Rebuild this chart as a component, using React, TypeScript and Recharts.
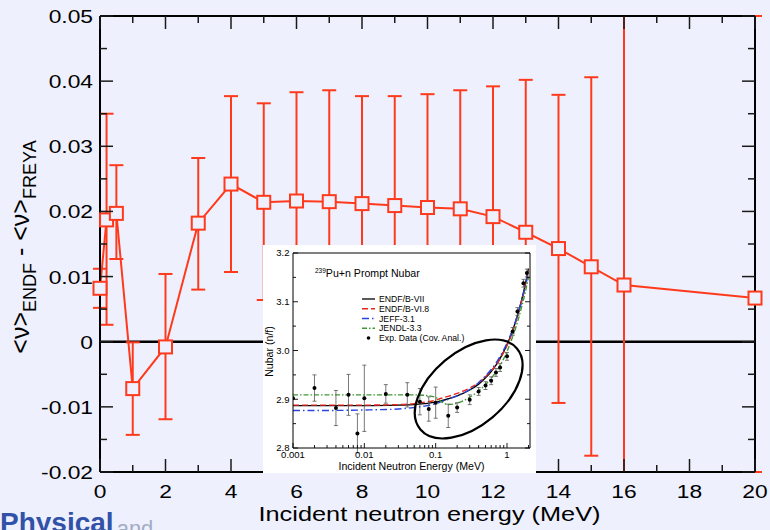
import React from 'react';
import {
  ComposedChart,
  Line,
  Scatter,
  XAxis,
  YAxis,
  ErrorBar,
  ReferenceLine,
  ReferenceDot,
  Legend,
} from 'recharts';

const FONT = '"Liberation Sans", Arial, Helvetica, sans-serif';
const BG = '#eef1fd';
const RED = '#ff3a1c';

// ---------------- main chart data ----------------
const energyMeV = [0, 0.2, 0.5, 1, 2, 3, 4, 5, 6, 7, 8, 9, 10, 11, 12, 13, 14, 15, 16, 20];
const nuDiff = [
  0.0082, 0.0187, 0.0197, -0.0072, -0.0008, 0.0182, 0.0242, 0.0214, 0.0216, 0.0215,
  0.0212, 0.0209, 0.0206, 0.0204, 0.0192, 0.0168, 0.0143, 0.0115, 0.0087, 0.0067,
];
const errLow = [
  0.003, 0.0161, 0.007, 0.0071, 0.0111, 0.0102, 0.0135, 0.015, 0.0167, 0.0171,
  0.0165, 0.0168, 0.0174, 0.0182, 0.02, 0.0234, 0.0237, 0.029, 0.05, 0.05,
];
const errHigh = [
  0.003, 0.0163, 0.0074, 0.0071, 0.0112, 0.01, 0.0135, 0.0152, 0.0167, 0.0171,
  0.0165, 0.0168, 0.0174, 0.0182, 0.02, 0.0234, 0.0236, 0.0291, 0.05, 0.05,
];
const yDomain = [-0.02, 0.05];
const xMajorTicks = [0, 2, 4, 6, 8, 10, 12, 14, 16, 18, 20];
const xMinorTicks = [1, 3, 5, 7, 9, 11, 13, 15, 17, 19];
const yMajorTicks = [-0.02, -0.01, 0, 0.01, 0.02, 0.03, 0.04, 0.05];
const yMinorTicks = [-0.015, -0.005, 0.005, 0.015, 0.025, 0.035, 0.045];

// error bars that run off the plot are cut at the frame, as in the original figure
const mainData = energyMeV.map((e, i) => ({
  e,
  v: nuDiff[i],
  err: [Math.min(errLow[i], nuDiff[i] - yDomain[0]), Math.min(errHigh[i], yDomain[1] - nuDiff[i])],
}));

// ---------------- inset chart data ----------------
const curveE = [0.001, 0.003, 0.01, 0.03, 0.05, 0.07, 0.1, 0.12, 0.15, 0.2, 0.3, 0.4, 0.5, 0.6, 0.7, 0.8, 1.0, 1.2, 1.4, 1.6, 1.8, 2.0];
const endfb7 = [2.887, 2.887, 2.887, 2.888, 2.889, 2.891, 2.894, 2.897, 2.901, 2.907, 2.919, 2.931, 2.944, 2.957, 2.97, 2.984, 3.012, 3.041, 3.072, 3.103, 3.135, 3.168];
const endfb68 = [2.888, 2.888, 2.888, 2.889, 2.891, 2.894, 2.898, 2.902, 2.906, 2.912, 2.923, 2.934, 2.946, 2.958, 2.97, 2.983, 3.01, 3.039, 3.07, 3.1, 3.132, 3.165];
const jeff31 = [2.877, 2.877, 2.878, 2.88, 2.883, 2.886, 2.891, 2.895, 2.9, 2.907, 2.92, 2.934, 2.948, 2.961, 2.974, 2.988, 3.015, 3.043, 3.072, 3.101, 3.13, 3.16];
const jendl33 = [2.909, 2.909, 2.909, 2.909, 2.909, 2.908, 2.904, 2.895, 2.889, 2.892, 2.904, 2.917, 2.93, 2.943, 2.956, 2.969, 2.998, 3.028, 3.058, 3.089, 3.119, 3.15];

const expE = [0.001, 0.002, 0.004, 0.006, 0.008, 0.01, 0.02, 0.04, 0.06, 0.08, 0.1, 0.15, 0.2, 0.3, 0.4, 0.5, 0.6, 0.7, 0.8, 1.0, 1.2, 1.4, 1.7, 1.9];
const expNu = [2.902, 2.923, 2.882, 2.909, 2.83, 2.902, 2.911, 2.909, 2.895, 2.88, 2.893, 2.866, 2.883, 2.899, 2.916, 2.928, 2.938, 2.955, 2.965, 2.988, 3.039, 3.08, 3.138, 3.159];
const expErr = [0, 0.027, 0.036, 0.042, 0.04, 0.068, 0.019, 0.025, 0.027, 0.025, 0.032, 0.024, 0.01, 0.01, 0.008, 0.008, 0.008, 0.008, 0.008, 0.008, 0.008, 0.008, 0.008, 0.008];

const insetXMajor = [0.001, 0.01, 0.1, 1];
const insetXMinor = [
  0.002, 0.003, 0.004, 0.005, 0.006, 0.007, 0.008, 0.009,
  0.02, 0.03, 0.04, 0.05, 0.06, 0.07, 0.08, 0.09,
  0.2, 0.3, 0.4, 0.5, 0.6, 0.7, 0.8, 0.9, 2,
];
const insetYMajor = [2.8, 2.9, 3.0, 3.1, 3.2];
const insetYMinor = [2.85, 2.95, 3.05, 3.15];

const insetCurves = [
  { name: 'ENDF/B-VII', values: endfb7, color: '#000000', dash: undefined as string | undefined },
  { name: 'ENDF/B-VI.8', values: endfb68, color: '#e8261e', dash: '6 3' },
  { name: 'JEFF-3.1', values: jeff31, color: '#2645e0', dash: '7 3 1.5 3' },
  { name: 'JENDL-3.3', values: jendl33, color: '#3c9b30', dash: '5 2 1.5 2' },
];
const expName = 'Exp. Data (Cov. Anal.)';
const expData = expE.map((e, i) => ({ e, v: expNu[i], err: expErr[i] }));

const near = (list: number[], v: number) => list.some((t) => Math.abs(t - v) < 1e-9);

// ---------------- main ticks ----------------
const TICK = '#1a1a1a';
const LeftTick = (p: any) => {
  const { x, y, payload } = p;
  const v = payload.value;
  const major = near(yMajorTicks, v);
  const label = Math.abs(v) < 1e-12 ? '0' : v.toFixed(2);
  return (
    <g>
      <line x1={x} x2={x + (major ? 13 : 7)} y1={y} y2={y} stroke={TICK} strokeWidth={1.5} />
      {major && (
        <text transform={`translate(${x - 7},${y + 7}) scale(1.2,1)`} textAnchor="end" fontSize={19} fontFamily={FONT} fill="#000">
          {label}
        </text>
      )}
    </g>
  );
};
const RightTick = (p: any) => {
  const { x, y, payload } = p;
  const major = near(yMajorTicks, payload.value);
  return <line x1={x} x2={x - (major ? 13 : 7)} y1={y} y2={y} stroke={TICK} strokeWidth={1.5} />;
};
const BottomTick = (p: any) => {
  const { x, y, payload } = p;
  const major = near(xMajorTicks, payload.value);
  return (
    <g>
      <line x1={x} x2={x} y1={y} y2={y - (major ? 13 : 7)} stroke={TICK} strokeWidth={1.5} />
      {major && (
        <text transform={`translate(${x},${y + 26}) scale(1.2,1)`} textAnchor="middle" fontSize={19} fontFamily={FONT} fill="#000">
          {String(payload.value)}
        </text>
      )}
    </g>
  );
};
const TopTick = (p: any) => {
  const { x, y, payload } = p;
  const major = near(xMajorTicks, payload.value);
  return <line x1={x} x2={x} y1={y} y2={y + (major ? 13 : 7)} stroke={TICK} strokeWidth={1.5} />;
};

const XTitle = (p: any) => {
  const vb = p.viewBox;
  return (
    <text x={vb.x + vb.width / 2 + 2} y={vb.y + 49} textAnchor="middle" fontSize={20.5} fontFamily={FONT} fill="#000" textLength={342} lengthAdjust="spacingAndGlyphs">
      Incident neutron energy (MeV)
    </text>
  );
};
const YTitle = (p: any) => {
  const vb = p.viewBox;
  const cx = vb.x + 28.5;
  const cy = vb.y + vb.height / 2 + 3;
  return (
    <text transform={`translate(${cx},${cy}) rotate(-90)`} textAnchor="middle" fontSize={25} fontFamily={FONT} fill="#000">
      {'<ν>'}
      <tspan fontSize={18} dy={7}>ENDF</tspan>
      <tspan dy={-7}>{' - <ν>'}</tspan>
      <tspan fontSize={18} dy={7}>FREYA</tspan>
    </text>
  );
};

const SquareDot = (p: any) => {
  const { cx, cy, index } = p;
  if (cx == null || cy == null) return <g key={index} />;
  return <rect key={index} x={cx - 6.5} y={cy - 6.5} width={13} height={13} fill={BG} stroke={RED} strokeWidth={2} />;
};

// ---------------- inset ticks ----------------
const IBottomTick = (p: any) => {
  const { x, y, payload } = p;
  const major = near(insetXMajor, payload.value);
  return (
    <g>
      <line x1={x} x2={x} y1={y} y2={y - (major ? 5 : 3)} stroke="#000" strokeWidth={0.9} />
      {major && (
        <text x={x} y={y + 9.5} textAnchor="middle" fontSize={9.5} fontFamily={FONT} fill="#000">
          {String(payload.value)}
        </text>
      )}
    </g>
  );
};
const ITopTick = (p: any) => {
  const { x, y, payload } = p;
  const major = near(insetXMajor, payload.value);
  return <line x1={x} x2={x} y1={y} y2={y + (major ? 5 : 3)} stroke="#000" strokeWidth={0.9} />;
};
const ILeftTick = (p: any) => {
  const { x, y, payload } = p;
  const major = near(insetYMajor, payload.value);
  return (
    <g>
      <line x1={x} x2={x + (major ? 5 : 3)} y1={y} y2={y} stroke="#000" strokeWidth={0.9} />
      {major && (
        <text x={x - 3.5} y={y + 3.3} textAnchor="end" fontSize={9.5} fontFamily={FONT} fill="#000">
          {payload.value.toFixed(1)}
        </text>
      )}
    </g>
  );
};
const IRightTick = (p: any) => {
  const { x, y, payload } = p;
  const major = near(insetYMajor, payload.value);
  return <line x1={x} x2={x - (major ? 5 : 3)} y1={y} y2={y} stroke="#000" strokeWidth={0.9} />;
};
const IXTitle = (p: any) => {
  const vb = p.viewBox;
  return (
    <text x={vb.x + vb.width / 2} y={vb.y + 22} textAnchor="middle" fontSize={10.6} fontFamily={FONT} fill="#000">
      Incident Neutron Energy (MeV)
    </text>
  );
};
const IYTitle = (p: any) => {
  const vb = p.viewBox;
  return (
    <text transform={`translate(${vb.x + 9.5},${vb.y + vb.height / 2 + 1}) rotate(-90)`} textAnchor="middle" fontSize={10.6} fontFamily={FONT} fill="#000">
      Nubar (n/f)
    </text>
  );
};

const ExpDot = (p: any) => {
  const { cx, cy } = p;
  if (cx == null || cy == null) return <g />;
  return <circle cx={cx} cy={cy} r={2} fill="#000" />;
};

const Ellipse = (p: any) => {
  const { cx, cy } = p;
  return (
    <ellipse cx={cx} cy={cy} rx={63} ry={37} transform={`rotate(-40 ${cx} ${cy})`} fill="none" stroke="#000" strokeWidth={2.2} />
  );
};

const InsetLegend = (props: any) => {
  const payload: any[] = props.payload || [];
  const names = [...insetCurves.map((c) => c.name), expName];
  const rows = names
    .map((n) => payload.find((pl) => pl.value === n) || { value: n })
    .map((pl) => {
      const cfg = insetCurves.find((c) => c.name === pl.value);
      return { name: pl.value as string, color: cfg ? cfg.color : '#000', dash: cfg ? cfg.dash : undefined, isExp: !cfg };
    });
  const rowH = 9.75;
  return (
    <svg width={130} height={rows.length * rowH + 4} style={{ display: 'block' }}>
      {rows.map((r, i) => {
        const cy = 5 + i * rowH;
        return (
          <g key={r.name}>
            {r.isExp ? (
              <circle cx={6.5} cy={cy} r={1.8} fill="#000" />
            ) : (
              <line x1={0} x2={13} y1={cy} y2={cy} stroke={r.color} strokeWidth={1.3} strokeDasharray={r.dash} />
            )}
            <text x={17} y={cy + 3} fontSize={8.7} fontFamily={FONT} fill="#000">
              {r.name}
            </text>
          </g>
        );
      })}
    </svg>
  );
};

const Inset = () => (
  <div style={{ position: 'absolute', left: 263, top: 245, width: 273, height: 228, background: '#ffffff' }}>
    <ComposedChart width={273} height={228} margin={{ top: 7, right: 5, bottom: 0, left: 0 }}>
      <XAxis
        xAxisId="ib"
        dataKey="e"
        type="number"
        scale="log"
        domain={[0.001, 2.1]}
        allowDataOverflow
        ticks={[...insetXMajor, ...insetXMinor]}
        interval={0}
        tickSize={0}
        tickMargin={0}
        tickLine={false}
        axisLine={{ stroke: '#000', strokeWidth: 1 }}
        tick={IBottomTick}
        height={25}
        label={{ content: IXTitle }}
      />
      <XAxis
        xAxisId="it"
        orientation="top"
        type="number"
        scale="log"
        domain={[0.001, 2.1]}
        allowDataOverflow
        ticks={[...insetXMajor, ...insetXMinor]}
        interval={0}
        tickSize={0}
        tickMargin={0}
        tickLine={false}
        axisLine={{ stroke: '#000', strokeWidth: 1 }}
        tick={ITopTick}
        height={1}
      />
      <YAxis
        yAxisId="il"
        type="number"
        domain={[2.8, 3.2]}
        allowDataOverflow
        ticks={[...insetYMajor, ...insetYMinor]}
        interval={0}
        tickSize={0}
        tickMargin={0}
        tickLine={false}
        axisLine={{ stroke: '#000', strokeWidth: 1 }}
        tick={ILeftTick}
        width={30}
        label={{ content: IYTitle }}
      />
      <YAxis
        yAxisId="ir"
        orientation="right"
        type="number"
        domain={[2.8, 3.2]}
        allowDataOverflow
        ticks={[...insetYMajor, ...insetYMinor]}
        interval={0}
        tickSize={0}
        tickMargin={0}
        tickLine={false}
        axisLine={{ stroke: '#000', strokeWidth: 1 }}
        tick={IRightTick}
        width={1}
      />
      {insetCurves.map((c) => (
        <Line
          key={c.name}
          xAxisId="ib"
          yAxisId="il"
          data={c.values.map((v, i) => ({ e: curveE[i], v }))}
          dataKey="v"
          name={c.name}
          type="monotone"
          stroke={c.color}
          strokeDasharray={c.dash}
          strokeWidth={1.4}
          dot={false}
          activeDot={false}
          isAnimationActive={false}
        />
      ))}
      <Scatter xAxisId="ib" yAxisId="il" data={expData} dataKey="v" name={expName} fill="#000" shape={ExpDot} isAnimationActive={false}>
        <ErrorBar dataKey="err" direction="y" width={2} stroke="#555" strokeWidth={0.8} isAnimationActive={false} />
      </Scatter>
      <ReferenceDot xAxisId="ib" yAxisId="il" x={0.29} y={2.921} r={1} ifOverflow="visible" shape={Ellipse} />
      <Legend layout="vertical" align="center" verticalAlign="middle" wrapperStyle={{ left: 99, top: 49 }} content={InsetLegend} />
    </ComposedChart>
    <svg width={273} height={60} style={{ position: 'absolute', left: 0, top: 0, pointerEvents: 'none' }}>
      <text x={52} y={32.3} fontSize={10.6} fontFamily={FONT} fill="#000">
        <tspan fontSize={6.5} dy={-4}>239</tspan>
        <tspan dy={4}>Pu+n Prompt Nubar</tspan>
      </text>
    </svg>
  </div>
);

export default function App() {
  return (
    <div style={{ position: 'absolute', left: 0, top: 0, width: 770, height: 530, background: BG, overflow: 'hidden', fontFamily: FONT }}>
      <div style={{ position: 'absolute', left: 0, top: 0 }}>
        <ComposedChart width={770} height={530} data={mainData} margin={{ top: 15, right: 14, bottom: 0, left: 0 }}>
          <XAxis
            xAxisId="b"
            dataKey="e"
            type="number"
            domain={[0, 20]}
            ticks={[...xMajorTicks, ...xMinorTicks]}
            interval={0}
            tickSize={0}
            tickMargin={0}
            tickLine={false}
            axisLine={{ stroke: '#000', strokeWidth: 2 }}
            tick={BottomTick}
            height={58}
            label={{ content: XTitle }}
          />
          <XAxis
            xAxisId="t"
            orientation="top"
            dataKey="e"
            type="number"
            domain={[0, 20]}
            ticks={[...xMajorTicks, ...xMinorTicks]}
            interval={0}
            tickSize={0}
            tickMargin={0}
            tickLine={false}
            axisLine={{ stroke: '#000', strokeWidth: 2 }}
            tick={TopTick}
            height={1}
          />
          <YAxis
            yAxisId="l"
            type="number"
            domain={yDomain}
            allowDataOverflow
            ticks={[...yMajorTicks, ...yMinorTicks]}
            interval={0}
            tickSize={0}
            tickMargin={0}
            tickLine={false}
            axisLine={{ stroke: '#000', strokeWidth: 2 }}
            tick={LeftTick}
            width={100}
            label={{ content: YTitle }}
          />
          <YAxis
            yAxisId="r"
            orientation="right"
            type="number"
            domain={yDomain}
            ticks={[...yMajorTicks, ...yMinorTicks]}
            interval={0}
            tickSize={0}
            tickMargin={0}
            tickLine={false}
            axisLine={{ stroke: '#000', strokeWidth: 2 }}
            tick={RightTick}
            width={1}
          />
          <ReferenceLine xAxisId="b" yAxisId="l" y={0} stroke="#000" strokeWidth={2.5} />
          <Line xAxisId="b" yAxisId="l" dataKey="v" stroke={RED} strokeWidth={2} dot={false} activeDot={false} isAnimationActive={false}>
            <ErrorBar dataKey="err" direction="y" width={7} stroke={RED} strokeWidth={2} isAnimationActive={false} />
          </Line>
          <Line xAxisId="t" yAxisId="r" dataKey="v" stroke="none" dot={SquareDot} activeDot={false} isAnimationActive={false} />
        </ComposedChart>
      </div>
      <Inset />
      <svg width={770} height={530} style={{ position: 'absolute', left: 0, top: 0, pointerEvents: 'none' }}>
        <text x={0} y={532} fontSize={28} fontWeight="bold" fontFamily={FONT} fill="#3152a8">
          Physical
          <tspan fontSize={22} fontWeight="normal" fill="#a3abc4" dx={3} dy={4}>and</tspan>
        </text>
      </svg>
    </div>
  );
}
